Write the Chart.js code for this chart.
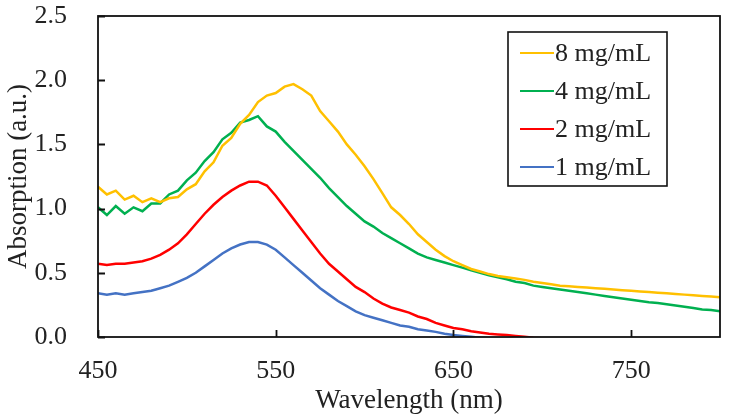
<!DOCTYPE html>
<html>
<head>
<meta charset="utf-8">
<script src="https://cdn.jsdelivr.net/npm/chart.js@4"></script>
<style>
  html, body { margin: 0; padding: 0; background: #fff; }
  #wrap { width: 731px; height: 419px; }
</style>
</head>
<body>
<div id="wrap"><canvas id="chart" width="731" height="419"></canvas></div>
<script>
/* ---------------- DATA ---------------- */

const wavelength = [
  450,455,460,465,470,475,480,485,490,495,500,
  505,510,515,520,525,530,535,540,545,550,
  555,560,565,570,575,580,585,590,595,600,
  605,610,615,620,625,630,635,640,645,650,
  655,660,665,670,675,680,685,690,695,700,
  705,710,715,720,725,730,735,740,745,750,
  755,760,765,770,775,780,785,790,795,800
];

const conc8 = [
  1.17,1.11,1.14,1.07,1.10,1.05,1.08,1.05,1.08,1.09,1.15,
  1.19,1.29,1.36,1.49,1.55,1.66,1.73,1.83,1.88,1.90,
  1.95,1.97,1.93,1.88,1.76,1.68,1.60,1.50,1.42,1.33,
  1.23,1.12,1.01,0.95,0.88,0.80,0.74,0.68,0.63,0.59,
  0.56,0.53,0.51,0.49,0.475,0.465,0.455,0.445,0.43,0.42,
  0.41,0.40,0.395,0.39,0.385,0.38,0.375,0.37,0.365,0.36,
  0.355,0.35,0.345,0.34,0.335,0.33,0.325,0.32,0.315,0.31
];

const conc4 = [
  1.01,0.95,1.02,0.96,1.01,0.98,1.04,1.04,1.11,1.14,1.22,
  1.28,1.37,1.44,1.54,1.59,1.67,1.69,1.72,1.64,1.60,
  1.52,1.45,1.38,1.31,1.24,1.16,1.09,1.02,0.96,0.90,
  0.86,0.81,0.77,0.73,0.69,0.65,0.62,0.60,0.58,0.56,
  0.54,0.52,0.50,0.48,0.465,0.45,0.43,0.42,0.40,0.39,
  0.38,0.37,0.36,0.35,0.34,0.33,0.32,0.31,0.30,0.29,
  0.28,0.27,0.265,0.255,0.245,0.235,0.225,0.215,0.21,0.20
];

const conc2 = [
  0.57,0.56,0.57,0.57,0.58,0.59,0.61,0.64,0.68,0.73,0.80,
  0.88,0.96,1.03,1.09,1.14,1.18,1.21,1.21,1.18,1.10,
  1.01,0.92,0.83,0.74,0.65,0.57,0.51,0.45,0.39,0.35,
  0.30,0.26,0.23,0.21,0.19,0.16,0.14,0.11,0.09,0.07,
  0.06,0.045,0.035,0.025,0.02,0.015,0.008,0.002,-0.005,-0.01,
  -0.015,-0.02,-0.02,-0.025,-0.025,-0.03,-0.03,-0.03,-0.035,-0.035,
  -0.035,-0.04,-0.04,-0.04,-0.04,-0.045,-0.045,-0.045,-0.05,-0.05
];

const conc1 = [
  0.34,0.33,0.34,0.33,0.34,0.35,0.36,0.38,0.40,0.43,0.46,
  0.50,0.55,0.60,0.65,0.69,0.72,0.74,0.74,0.72,0.68,
  0.62,0.56,0.50,0.44,0.38,0.33,0.28,0.24,0.20,0.17,
  0.15,0.13,0.11,0.09,0.08,0.06,0.05,0.04,0.025,0.015,
  0.008,0.002,-0.005,-0.01,-0.015,-0.02,-0.02,-0.025,-0.025,-0.03,
  -0.03,-0.035,-0.035,-0.04,-0.04,-0.04,-0.045,-0.045,-0.045,-0.05,
  -0.05,-0.05,-0.055,-0.055,-0.055,-0.06,-0.06,-0.06,-0.06,-0.065
];

const seriesLabels = ["8 mg/mL", "4 mg/mL", "2 mg/mL", "1 mg/mL"];
const seriesColors = ["#FFC000", "#00B050", "#FF0000", "#4472C4"];
const xTicks = [450, 550, 650, 750];
const yTicks = [0, 0.5, 1.0, 1.5, 2.0, 2.5];

/* ---------------- HELPERS ---------------- */

const FONT = "'Liberation Serif', 'Times New Roman', serif";
const INK = "#222";

function points(values) {
  return wavelength.map((w, i) => ({ x: w, y: values[i] }));
}

/* frame, inward tick marks and boxed legend */
const framePlugin = {
  id: "frame",
  afterDatasetsDraw(chart) {
    const { ctx, chartArea: a, scales } = chart;
    ctx.save();
    ctx.strokeStyle = "#111";
    ctx.lineWidth = 1.8;
    ctx.strokeRect(a.left, a.top, a.right - a.left, a.bottom - a.top);

    ctx.beginPath();
    yTicks.forEach(v => {
      const y = Math.round(scales.y.getPixelForValue(v)) + 0.5;
      ctx.moveTo(a.left, y);
      ctx.lineTo(a.left + 7, y);
    });
    xTicks.forEach(v => {
      const x = Math.round(scales.x.getPixelForValue(v)) + 0.5;
      ctx.moveTo(x, a.bottom);
      ctx.lineTo(x, a.bottom - 7);
    });
    ctx.stroke();

    // legend box
    const bw = 159, bh = 154;
    const bx = a.right - 53 - bw, by = a.top + 16;
    ctx.fillStyle = "#fff";
    ctx.fillRect(bx, by, bw, bh);
    ctx.lineWidth = 1.6;
    ctx.strokeRect(bx, by, bw, bh);
    ctx.font = "26px " + FONT;
    ctx.textBaseline = "middle";
    ctx.textAlign = "left";
    chart.data.datasets.forEach((ds, i) => {
      const ry = by + 21 + i * 38;
      ctx.strokeStyle = ds.borderColor;
      ctx.lineWidth = 2;
      ctx.beginPath();
      ctx.moveTo(bx + 12, ry);
      ctx.lineTo(bx + 46, ry);
      ctx.stroke();
      ctx.fillStyle = INK;
      ctx.fillText(ds.label, bx + 47, ry + 1);
    });
    ctx.restore();
  }
};

/* ---------------- CHART ---------------- */

const sets = [conc8, conc4, conc2, conc1];

new Chart(document.getElementById("chart"), {
  type: "line",
  data: {
    datasets: sets.map((vals, i) => ({
      label: seriesLabels[i],
      data: points(vals),
      borderColor: seriesColors[i],
      borderWidth: 2.5,
      pointRadius: 0,
      tension: 0,
      fill: false,
      clip: 0
    }))
  },
  options: {
    responsive: false,
    animation: false,
    events: [],
    layout: { padding: { top: 16, right: 11, left: 0, bottom: 0 } },
    plugins: {
      legend: { display: false },
      tooltip: { enabled: false }
    },
    scales: {
      x: {
        type: "linear",
        min: 450,
        max: 800,
        afterBuildTicks: s => { s.ticks = xTicks.map(v => ({ value: v })); },
        afterFit: s => { s.height = 82; s.paddingLeft = 0; s.paddingRight = 0; },
        grid: { display: false, drawTicks: false },
        border: { display: false },
        ticks: {
          padding: 19,
          color: INK,
          font: { family: FONT, size: 26 },
          maxRotation: 0
        },
        title: {
          display: true,
          text: "Wavelength (nm)",
          color: INK,
          font: { family: FONT, size: 27 },
          padding: { top: 0, bottom: 2 }
        }
      },
      y: {
        min: 0,
        max: 2.5,
        afterBuildTicks: s => { s.ticks = yTicks.map(v => ({ value: v })); },
        afterFit: s => { s.width = 98; s.paddingTop = 0; s.paddingBottom = 0; },
        grid: { display: false, drawTicks: false },
        border: { display: false },
        ticks: {
          padding: 31,
          color: INK,
          font: { family: FONT, size: 26 },
          callback: v => Number(v).toFixed(1)
        },
        title: {
          display: true,
          text: "Absorption (a.u.)",
          color: INK,
          font: { family: FONT, size: 27 },
          padding: { top: 3, bottom: 0 }
        }
      }
    }
  },
  plugins: [framePlugin]
});
</script>
</body>
</html>
